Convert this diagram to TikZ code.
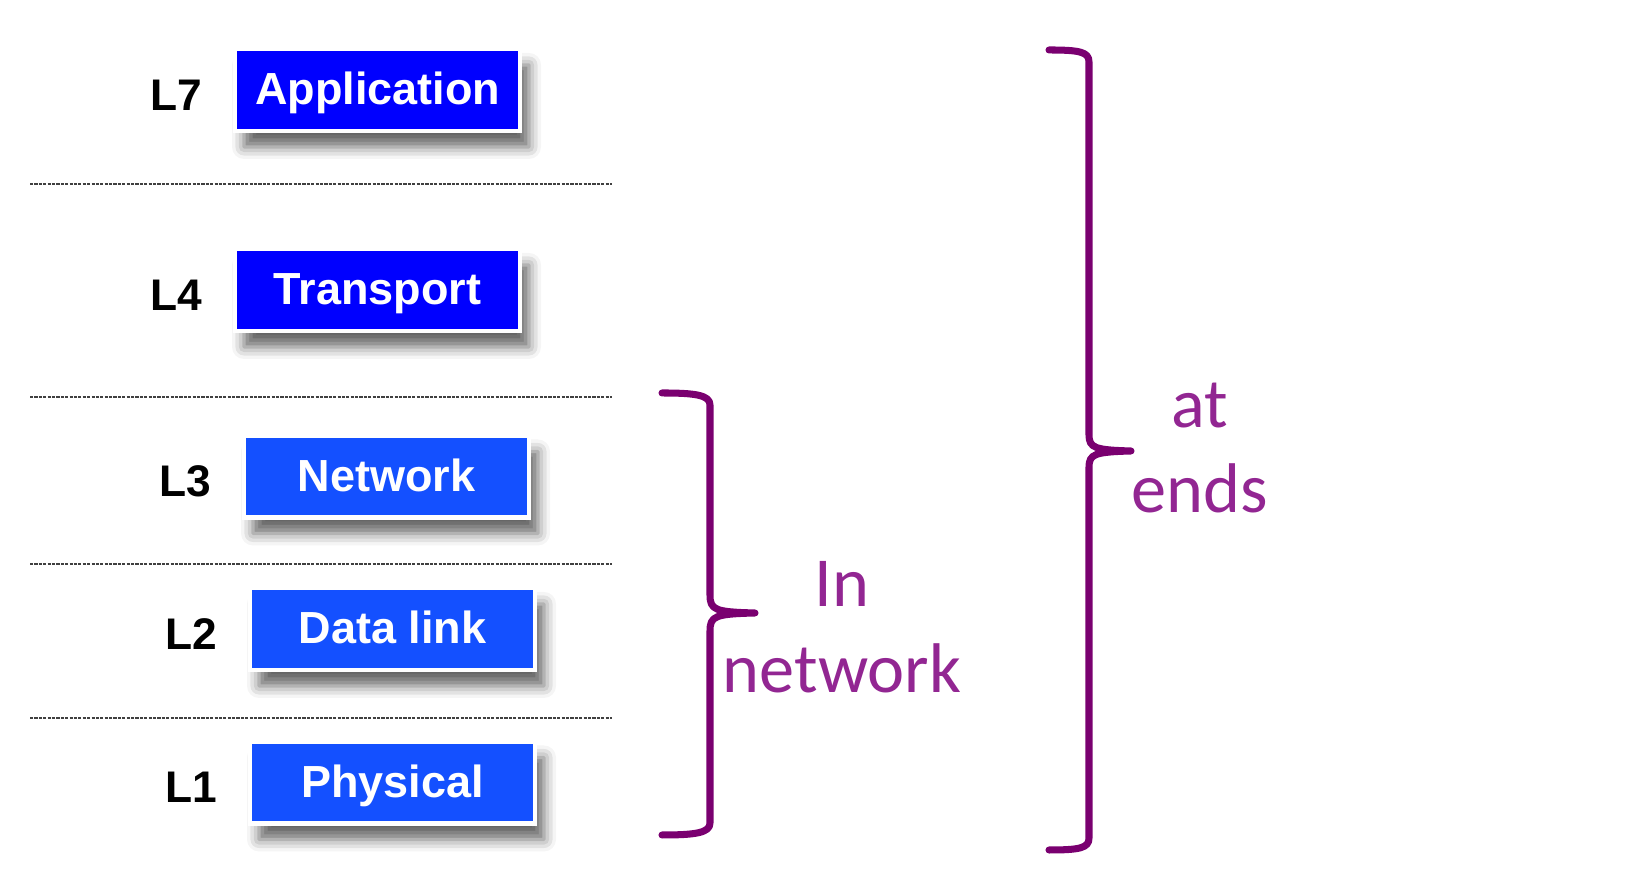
\documentclass[tikz,border=0pt]{standalone}
\usepackage{fontspec}
\setmainfont{Liberation Sans}
\newfontfamily\calib{Carlito}
\usetikzlibrary{shadows.blur}
\definecolor{appblue}{RGB}{0,0,255}
\definecolor{netblue}{RGB}{20,80,255}
\definecolor{bracepurple}{RGB}{122,0,112}
\definecolor{textpurple}{RGB}{146,38,146}

\begin{document}
\begin{tikzpicture}[lyr/.style={draw=white, line width=1.4pt, minimum width=2.85cm, minimum height=0.82cm, inner sep=0pt, text=white, font=\fontsize{12.8}{15}\selectfont\bfseries, text height=9.2pt, text depth=0.7pt, blur shadow={shadow xshift=0.09cm, shadow yshift=-0.16cm, shadow blur radius=0.12cm, shadow opacity=60}},
lbl/.style={font=\fontsize{12.6}{15}\selectfont\bfseries},
sep/.style={draw=black!75, line width=0.35pt, dash pattern=on 0.9pt off 0.35pt},
note/.style={text=textpurple, font=\calib\fontsize{20}{24}\selectfont, anchor=base}]
\tikzstyle{brc}=[draw=bracepurple, line width=2pt, line cap=round, line join=round]%, rounded corners]
\useasboundingbox (0,0) rectangle (16.45,8.9);
\foreach \n/\txt/\x/\y/\c in {7/Application/3.775/8.00/appblue, 4/Transport/3.775/6.00/appblue, 3/Network/3.865/4.135/netblue, 2/Data link/3.925/2.61/netblue, 1/Physical/3.925/1.075/netblue}{
\node[lyr, fill=\c] (b\n) at (\x,\y){\txt};
\node[lbl] (l\n) at ([xshift=-0.56cm, yshift=-0.05cm]b\n.west){L\n};
}
\foreach \y in {7.06,4.93,3.26,1.72}{\draw[sep] (0.30,\y) -- (6.12,\y);}

% in network
\draw[brc] (6.62,4.97) .. controls (6.95,4.97) and (7.10,4.95) .. (7.10,4.85) -- (7.10,2.95) .. controls (7.10,2.80) and (7.15,2.78) .. (7.55,2.77) .. controls (7.15,2.76) and (7.10,2.74) .. (7.10,2.59) -- (7.10,0.67) .. controls (7.10,0.57) and (6.95,0.55) .. (6.62,0.55);
\node[note] (in) at (8.42,2.83){In};
\node[note] (net) at (8.42,1.97){network};

% at ends
\draw[brc] (10.49,8.40) .. controls (10.80,8.40) and (10.89,8.38) .. (10.89,8.28) -- (10.89,4.55) .. controls (10.89,4.42) and (10.95,4.40) .. (11.31,4.39) .. controls (10.95,4.38) and (10.89,4.36) .. (10.89,4.23) -- (10.89,0.52) .. controls (10.89,0.42) and (10.80,0.40) .. (10.49,0.40);
\node[note] (at) at (12.00,4.62){at};
\node[note] (ends) at (12.00,3.77){ends};

\end{tikzpicture}
\end{document}
